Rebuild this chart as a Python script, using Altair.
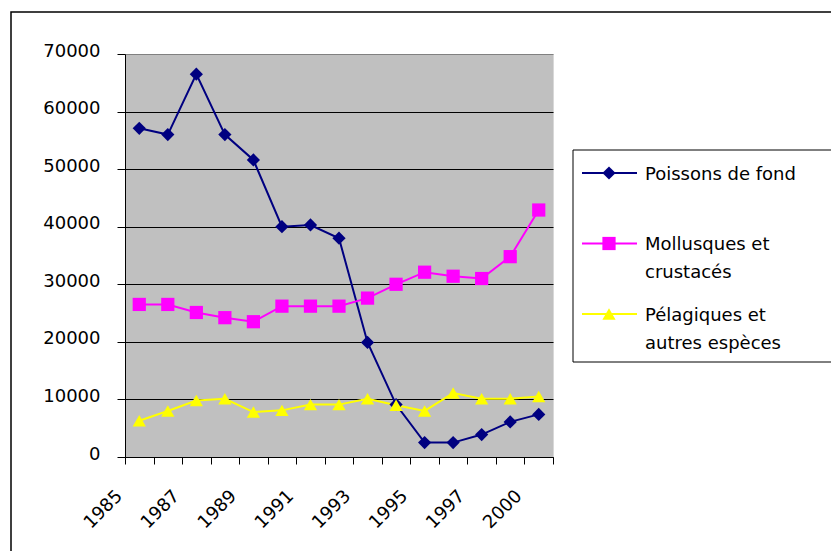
import altair as alt
import pandas as pd

# ---- data ----
years = ["1985", "1986", "1987", "1988", "1989", "1990", "1991", "1992",
         "1993", "1994", "1995", "1996", "1997", "1998", "2000"]
shown_years = years[::2]  # every other category label is printed

series = ["Poissons de fond", "Mollusques et crustacés", "Pélagiques et autres espèces"]
legend_lines = ["Poissons de fond", "Mollusques et\ncrustacés", "Pélagiques et\nautres espèces"]
colors = ["#000080", "#FF00FF", "#FFFF00"]
shapes = ["diamond", "square", "triangle-up"]
marker_sizes = [175, 175, 300]

poissons = [57100, 56000, 66500, 56000, 51600, 40000, 40300, 38000,
            19900, 9100, 2500, 2500, 3900, 6100, 7400]
mollusques = [26500, 26500, 25100, 24200, 23500, 26200, 26200, 26200,
              27600, 30000, 32100, 31400, 31000, 34800, 42900]
pelagiques = [6300, 8000, 9800, 10100, 7800, 8100, 9100, 9100,
              10100, 9000, 8000, 11100, 10100, 10100, 10500]

y_ticks = [0, 10000, 20000, 30000, 40000, 50000, 60000, 70000]

# ---- tables ----
rows = []
for name, vals in zip(series, [poissons, mollusques, pelagiques]):
    for yr, v in zip(years, vals):
        rows.append({"series": name, "year": yr, "value": v})
df = pd.DataFrame(rows)

df_leg = pd.DataFrame({"series": series, "lines": legend_lines,
                       "slot": list(range(len(series)))})
df_one = pd.DataFrame({"k": [0]})

color_scale = alt.Scale(domain=series, range=colors)
shape_scale = alt.Scale(domain=series, range=shapes)
size_scale = alt.Scale(domain=series, range=marker_sizes)

label_test = "indexof([" + ",".join("'%s'" % y for y in shown_years) + "], datum.label) >= 0"

x_enc = alt.X(
    "year:O", sort=years, title=None,
    scale=alt.Scale(type="band", paddingInner=0, paddingOuter=0),
    axis=alt.Axis(labelAngle=-45, labelAlign="right", labelBaseline="middle",
                  labelExpr=label_test + " ? datum.label : ''",
                  tickBand="extent", tickSize=7, labelPadding=29, labelOffset=-20,
                  grid=False),
)
y_enc = alt.Y(
    "value:Q", title=None,
    scale=alt.Scale(domain=[0, 70000], nice=False),
    axis=alt.Axis(values=y_ticks, format="d", tickSize=8, labelPadding=17,
                  labelOffset=-3,
                  grid=True,
                  gridColor={"condition": {"test": "datum.value >= 70000", "value": "#808080"},
                             "value": "black"},
                  gridWidth=1),
)

base = alt.Chart(df)
lines = base.mark_line(strokeWidth=2).encode(
    x=x_enc, y=y_enc,
    color=alt.Color("series:N", scale=color_scale, legend=None),
)
points = base.mark_point(filled=True, opacity=1).encode(
    x=x_enc, y=y_enc,
    color=alt.Color("series:N", scale=color_scale, legend=None),
    shape=alt.Shape("series:N", scale=shape_scale, legend=None),
    size=alt.Size("series:N", scale=size_scale, legend=None),
)
main = alt.layer(lines, points)

# ---- decorations: outer chart frame and legend box ----
frame = alt.Chart(df_one).mark_rect(fill="white", fillOpacity=0, stroke="black", strokeWidth=1.5).encode(
    x=alt.value(-114), x2=alt.value(760), y=alt.value(-42), y2=alt.value(620)
)
legend_box = alt.Chart(df_one).mark_rect(fill="white", stroke="black", strokeWidth=1).encode(
    x=alt.value(448), x2=alt.value(760), y=alt.value(96), y2=alt.value(308)
)

# ---- legend entries ----
leg_y = alt.Y("slot:Q", scale=alt.Scale(domain=[0, len(series) - 1], range=[119, 260]), axis=None)
leg_base = alt.Chart(df_leg)
leg_rule = leg_base.mark_rule(strokeWidth=2).encode(
    x=alt.value(457), x2=alt.value(512), y=leg_y,
    color=alt.Color("series:N", scale=color_scale, legend=None),
)
leg_pts = leg_base.mark_point(filled=True, opacity=1).encode(
    x=alt.value(484), y=leg_y,
    color=alt.Color("series:N", scale=color_scale, legend=None),
    shape=alt.Shape("series:N", scale=shape_scale, legend=None),
    size=alt.Size("series:N", scale=size_scale, legend=None),
)
leg_text = leg_base.mark_text(align="left", baseline="alphabetic", dy=6.5,
                              font="DejaVu Sans", fontSize=18, lineBreak="\n",
                              lineHeight=28, color="black").encode(
    x=alt.value(520), y=leg_y, text="lines:N"
)
legend = alt.layer(leg_rule, leg_pts, leg_text)

chart = alt.layer(frame, main, legend_box, legend).resolve_scale(
    y="independent"
).properties(
    width=428, height=403,
    autosize=alt.AutoSizeParams(type="none"),
    padding={"left": 117, "top": 46, "right": 278, "bottom": 94},
    background="white",
).configure_view(
    fill="#C0C0C0", stroke="#D8D8D8"
).configure_axis(
    labelFont="DejaVu Sans", labelFontSize=18, labelColor="black",
    domainColor="black", tickColor="black", domainWidth=1, tickWidth=1,
)

chart.save("out.html", embed_options={"renderer": "svg", "actions": False})
